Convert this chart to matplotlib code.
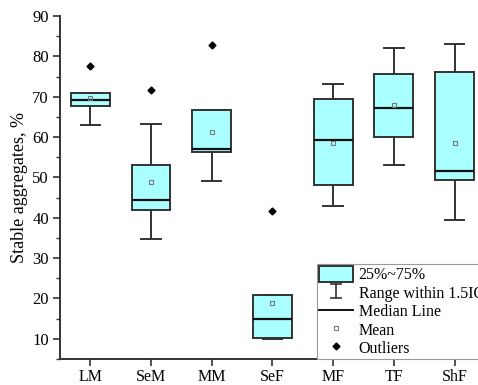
import matplotlib
matplotlib.use("Agg")
import matplotlib.pyplot as plt
from matplotlib.path import Path
from matplotlib.lines import Line2D
from matplotlib.patches import Patch
from matplotlib.ticker import MultipleLocator

categories = ["LM", "SeM", "MM", "SeF", "MF", "TF", "ShF"]
whis_low = [62.9, 34.8, 49.1, 10.0, 42.9, 53.0, 39.4]
q1 = [67.6, 41.9, 56.4, 10.1, 48.0, 60.1, 49.4]
median = [69.1, 44.4, 57.0, 15.0, 59.2, 67.3, 51.7]
mean = [69.6, 48.8, 61.3, 18.8, 58.5, 67.9, 58.5]
q3 = [70.8, 53.0, 66.8, 20.9, 69.4, 75.7, 76.0]
whis_high = [70.8, 63.3, 66.8, 20.9, 73.2, 82.1, 83.0]
outliers = [[77.6], [71.7], [82.9], [41.6], [], [], []]

plt.rcParams['font.family'] = ['Liberation Serif', 'DejaVu Serif']
plt.rcParams['font.size'] = 12

stats = []
for i in range(len(categories)):
    stats.append({
        "label": categories[i],
        "whislo": whis_low[i], "q1": q1[i], "med": median[i],
        "mean": mean[i], "q3": q3[i], "whishi": whis_high[i],
        "fliers": outliers[i],
    })

edge = "#333333"
fill = "#aaffff"

fig = plt.figure(figsize=(4.78, 3.85), dpi=100)
ax = fig.add_axes([60/478, 26/385, 425/478, 343/385])

bp = ax.bxp(stats, positions=range(1, 8), widths=0.64, patch_artist=True,
            showmeans=True,
            boxprops=dict(facecolor=fill, edgecolor=edge, linewidth=1.4),
            whiskerprops=dict(color=edge, linewidth=1.4),
            capprops=dict(color=edge, linewidth=1.4),
            medianprops=dict(color="#111111", linewidth=1.6),
            meanprops=dict(marker="s", markersize=3.5, markerfacecolor="none",
                           markeredgecolor="#777777", markeredgewidth=0.8),
            flierprops=dict(marker="D", markersize=3.5, markerfacecolor="black",
                            markeredgecolor="black"))

ax.set_xlim(0.5, 7.5)
ax.set_ylim(5, 90)
ax.yaxis.set_major_locator(MultipleLocator(10))
ax.yaxis.set_minor_locator(MultipleLocator(5))
ax.set_yticks(range(10, 91, 10))
for s in ["top", "right"]:
    ax.spines[s].set_visible(False)
for s in ["left", "bottom"]:
    ax.spines[s].set_color(edge)
    ax.spines[s].set_linewidth(1.4)
ax.tick_params(which="major", direction="out", length=5, width=1.2, color=edge)
ax.tick_params(which="minor", direction="out", length=3, width=1.0, color=edge)
ax.tick_params(axis="x", pad=2, labelsize=11.5)
ax.tick_params(axis="y", pad=3)
ax.set_ylabel("Stable aggregates, %", fontsize=13, labelpad=3)

# legend handles in the Origin style
ibar = Path([(-0.9, -1), (0.9, -1), (0, -1), (0, 1), (-0.9, 1), (0.9, 1)],
            [Path.MOVETO, Path.LINETO, Path.MOVETO, Path.LINETO, Path.MOVETO, Path.LINETO])
handles = [
    Patch(facecolor=fill, edgecolor=edge, linewidth=1.4),
    Line2D([], [], linestyle="none", marker=ibar, markersize=9.5,
           markerfacecolor="none", markeredgecolor=edge, markeredgewidth=1.2),
    Line2D([], [], color="#111111", linewidth=1.4),
    Line2D([], [], linestyle="none", marker="s", markersize=3.5, markerfacecolor="none",
           markeredgecolor="#777777", markeredgewidth=0.8),
    Line2D([], [], linestyle="none", marker="D", markersize=3.5, color="black"),
]
labels = ["25%~75%", "Range within 1.5IQR", "Median Line", "Mean", "Outliers"]
leg = fig.legend(handles, labels, loc="upper left", fontsize=11.5,
                 bbox_to_anchor=(317/478, 1 - 264/385), bbox_transform=fig.transFigure,
                 fancybox=False, edgecolor="#999999", framealpha=1,
                 handlelength=2.1, handleheight=1.1, handletextpad=0.35,
                 labelspacing=0.08, borderpad=0.15, borderaxespad=0)
leg.get_frame().set_linewidth(0.8)

fig.savefig("out.png", dpi=100)
